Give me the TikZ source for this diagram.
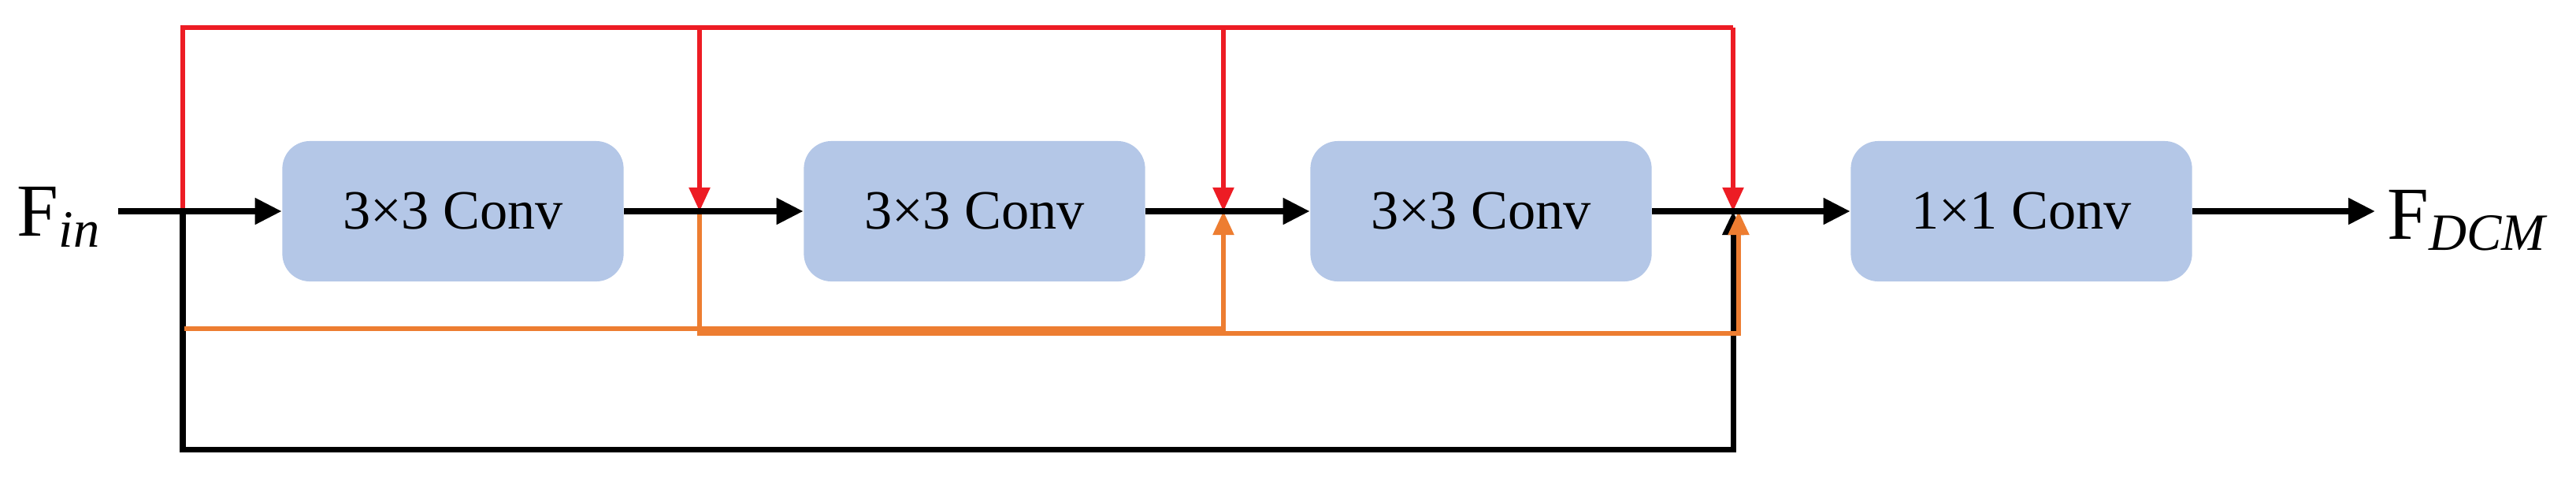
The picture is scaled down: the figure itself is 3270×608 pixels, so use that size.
\documentclass[tikz,border=0pt]{standalone}
\usepackage{fontspec}
\setmainfont{Liberation Serif}
\usetikzlibrary{arrows.meta}
\begin{document}
\begin{tikzpicture}[x=0.01cm,y=-0.01cm,
  conv/.style={fill={rgb,255:red,180;green,199;blue,231}, rounded corners=0.35cm, minimum width=4.33cm, minimum height=1.78cm, font=\fontsize{20}{23}\selectfont, inner sep=0},
  blk/.style={line width=2.2pt,-{Triangle[length=0.34cm,width=0.32cm]}},
  redl/.style={draw={rgb,255:red,237;green,28;blue,36}, line width=1.5pt},
  redarr/.style={redl,-{Triangle[length=0.3cm,width=0.26cm]}},
  orl/.style={draw={rgb,255:red,237;green,125;blue,49}, line width=1.5pt},
  orarr/.style={orl,-{Triangle[length=0.3cm,width=0.26cm]}},
  lbl/.style={font=\fontsize{27}{30}\selectfont, inner sep=0}]
\useasboundingbox (0,0) rectangle (3270,608);
\node[conv] (c1) at (575,268) {3×3 Conv};
\node[conv] (c2) at (1237,268) {3×3 Conv};
\node[conv] (c3) at (1880,268) {3×3 Conv};
\node[conv] (c4) at (2566,268) {1×1 Conv};
\node[lbl] (fin) at (75,275) {F\textsubscript{\textit{in}}};
\node[lbl,anchor=west] (fout) at (3030,280) {F\textsubscript{\textit{DCM}}};
\coordinate (s) at (150,268);
\coordinate (j0) at (232,268);
\coordinate (j1) at (888,268);
\coordinate (j2) at (1553,268);
\coordinate (j3) at (2200,268);
\coordinate (e) at (3015,268);
% red
\draw[redl] (j0) -- (232,35) -- (2200,35);
\draw[redarr] (888,35) -- (j1);
\draw[redarr] (1553,35) -- (j2);
\draw[redarr] (2200,35) -- (j3);
% black bottom
\draw[line width=2pt,-{Triangle[length=0.3cm,width=0.26cm]}] (j0) -- (232,570) -- (2200,570) -- (j3);
% orange
\draw[orarr] (234,417) -- (1553,417) -- (j2);
\draw[orarr] (j1) -- (888,423) -- (2207,423) -- (2207,268);
% main
\draw[line width=2.2pt] (s) -- (j0);
\draw[blk] (j0) -- (c1.west);
\draw[line width=2.2pt] (c1.east) -- (j1);
\draw[blk] (j1) -- (c2.west);
\draw[line width=2.2pt] (c2.east) -- (j2);
\draw[blk] (j2) -- (c3.west);
\draw[line width=2.2pt] (c3.east) -- (j3);
\draw[blk] (j3) -- (c4.west);
\draw[blk] (c4.east) -- (e);
\end{tikzpicture}
\end{document}
